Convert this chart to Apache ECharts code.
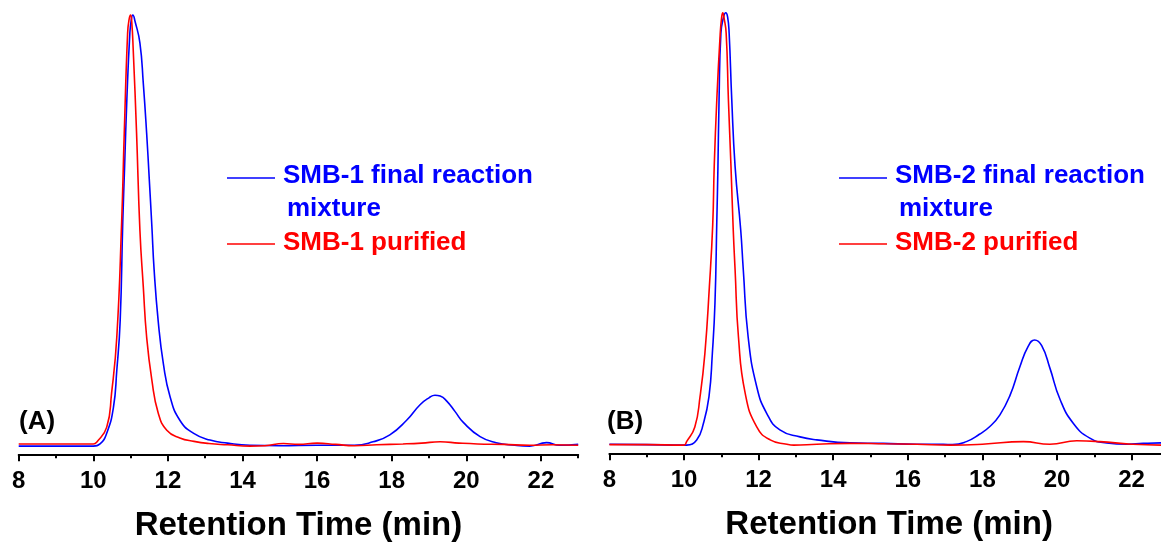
<!DOCTYPE html>
<html>
<head>
<meta charset="utf-8">
<script src="https://cdn.jsdelivr.net/npm/echarts@6/dist/echarts.min.js"></script>
<style>
  html, body { margin: 0; padding: 0; background: #ffffff; }
  #chart { width: 1161px; height: 545px; }
</style>
</head>
<body>
<div id="chart"></div>
<script>
// Axis ticks (minutes)
const majorTicks = [8, 10, 12, 14, 16, 18, 20, 22];
const minorTicks = [9, 11, 13, 15, 17, 19, 21, 23];
const axisTitle = 'Retention Time (min)';

// (A) SMB-1 final reaction mixture — time (min) / normalised detector response
const timeA1 = [8, 9, 10, 10.18, 10.36, 10.54, 10.63, 10.72, 10.79, 10.84, 10.9, 10.98, 11.02, 11.06, 11.12, 11.25, 11.34, 11.43, 11.5, 11.57, 11.63, 11.74, 11.88, 12.06, 12.32, 12.68, 13.13, 13.6, 14.2, 15, 16, 17, 17.5, 17.95, 18.4, 18.76, 19.0, 19.16, 19.3, 19.47, 19.7, 19.92, 20.37, 20.8, 21.3, 21.7, 22.15, 22.5, 23];
const signalA1 = [0, 0, 0, 0.005, 0.03, 0.09, 0.176, 0.29, 0.52, 0.65, 0.805, 0.958, 0.99, 1.0, 0.985, 0.935, 0.842, 0.726, 0.62, 0.51, 0.41, 0.29, 0.19, 0.114, 0.06, 0.03, 0.014, 0.007, 0.002, 0.001, 0.002, 0.002, 0.01, 0.026, 0.06, 0.096, 0.112, 0.118, 0.116, 0.105, 0.08, 0.055, 0.022, 0.008, 0.002, 0.0, 0.008, 0.002, 0.004];

// (A) SMB-1 purified
const timeA2 = [8, 9, 10, 10.09, 10.36, 10.49, 10.63, 10.76, 10.83, 10.92, 10.96, 11.0, 11.03, 11.07, 11.16, 11.25, 11.34, 11.43, 11.57, 11.74, 11.97, 12.32, 12.7, 13.1, 13.6, 14.2, 14.6, 15.1, 15.5, 16.0, 16.5, 17.0, 17.6, 18.3, 18.8, 19.3, 19.8, 20.3, 21.0, 21.7, 22.3, 23];
const signalA2 = [0.005, 0.005, 0.005, 0.009, 0.044, 0.123, 0.253, 0.52, 0.726, 0.958, 0.99, 1.0, 0.985, 0.92, 0.726, 0.5, 0.37, 0.253, 0.153, 0.077, 0.037, 0.019, 0.011, 0.006, 0.003, 0.0, 0.001, 0.006, 0.004, 0.007, 0.004, 0.001, 0.003, 0.005, 0.007, 0.01, 0.007, 0.005, 0.004, 0.002, 0.003, 0.002];

// (B) SMB-2 final reaction mixture
const timeB1 = [8, 9, 10, 10.07, 10.34, 10.52, 10.67, 10.76, 10.83, 10.88, 10.91, 10.94, 10.99, 11.06, 11.12, 11.17, 11.21, 11.28, 11.37, 11.52, 11.59, 11.72, 11.95, 12.22, 12.57, 13.11, 13.56, 14.45, 15.34, 16.24, 16.95, 17.2, 17.57, 17.92, 18.2, 18.47, 18.74, 19.0, 19.23, 19.4, 19.59, 19.81, 20.08, 20.44, 20.88, 21.33, 21.87, 22.31, 22.79, 23];
const signalB1 = [0.002, 0.001, 0, 0, 0.012, 0.05, 0.112, 0.212, 0.328, 0.52, 0.644, 0.8, 0.953, 0.99, 1.0, 0.99, 0.953, 0.8, 0.644, 0.498, 0.405, 0.25, 0.135, 0.073, 0.035, 0.019, 0.012, 0.005, 0.004, 0.002, 0.002, 0.001, 0.008, 0.025, 0.043, 0.07, 0.115, 0.18, 0.229, 0.243, 0.23, 0.178, 0.106, 0.05, 0.016, 0.005, 0.002, 0.004, 0.005, 0.004];

// (B) SMB-2 purified
const timeB2 = [8, 9, 10, 10.07, 10.29, 10.43, 10.56, 10.68, 10.77, 10.81, 10.88, 10.97, 11.01, 11.04, 11.07, 11.13, 11.19, 11.26, 11.32, 11.37, 11.46, 11.64, 11.95, 12.31, 12.76, 12.94, 13.56, 14.45, 15.4, 16.24, 17.14, 18.0, 19.1, 19.81, 20.53, 21.15, 22.0, 22.8, 23];
const signalB2 = [0.001, 0.001, 0, 0.008, 0.042, 0.112, 0.212, 0.366, 0.51, 0.644, 0.8, 0.95, 0.99, 1.0, 0.99, 0.953, 0.8, 0.644, 0.498, 0.405, 0.25, 0.12, 0.042, 0.012, 0.002, 0, 0.002, 0.004, 0.003, 0.002, 0, 0.002, 0.008, 0.002, 0.01, 0.008, 0.002, 0, 0];

const BLUE = '#0000ff';
const RED = '#ff0000';
const FONT = '"Liberation Sans", Arial, sans-serif';

const pairs = (t, v) => t.map((x, i) => [x, v[i]]);

// Plot geometry: two panels, each with a second overlaid grid that carries the minor ticks
const panels = [
  { left: 18.7, top: 6.4, width: 559.5, height: 447.9 },
  { left: 609.4, top: 4.1, width: 559.5, height: 449.2 }
];

const grids = [];
panels.forEach(p => {
  grids.push({ ...p, containLabel: false, outerBoundsMode: 'none' });
  grids.push({ ...p, containLabel: false, outerBoundsMode: 'none' });
});

const xAxes = [];
const yAxes = [];
panels.forEach((p, k) => {
  // main axis: line, long ticks, labels, title
  xAxes.push({
    type: 'value', gridIndex: 2 * k, min: 8, max: 23,
    axisLine: { show: true, onZero: false, lineStyle: { color: '#000', width: 2 } },
    axisTick: { show: true, customValues: majorTicks, length: 7, inside: false, lineStyle: { color: '#000', width: 2 } },
    axisLabel: { show: true, customValues: majorTicks, margin: 15, color: '#000', fontSize: 24, fontWeight: 'bold', fontFamily: FONT },
    splitLine: { show: false },
    name: axisTitle, nameLocation: 'middle', nameGap: 55,
    nameTextStyle: { color: '#000', fontSize: 33, fontWeight: 'bold', fontFamily: FONT }
  });
  // companion axis: short ticks only
  xAxes.push({
    type: 'value', gridIndex: 2 * k + 1, min: 8, max: 23,
    axisLine: { show: false, onZero: false },
    axisTick: { show: true, customValues: minorTicks, length: 4, lineStyle: { color: '#000', width: 2 } },
    axisLabel: { show: false },
    splitLine: { show: false }
  });
  const ymin = -0.019, ymax = 1.02;
  yAxes.push({ type: 'value', gridIndex: 2 * k, min: ymin, max: ymax, show: false });
  yAxes.push({ type: 'value', gridIndex: 2 * k + 1, min: ymin, max: ymax, show: false });
});

const lineSeries = (name, xi, t, v, color) => ({
  name, type: 'line', xAxisIndex: xi, yAxisIndex: xi,
  data: pairs(t, v), smooth: 0.5,
  showSymbol: false, symbol: 'none', animation: false,
  lineStyle: { color, width: 1.6 }, itemStyle: { color }
});

const series = [
  lineSeries('SMB-1 final reaction mixture', 0, timeA1, signalA1, BLUE),
  lineSeries('SMB-1 purified', 0, timeA2, signalA2, RED),
  lineSeries('SMB-2 final reaction mixture', 2, timeB1, signalB1, BLUE),
  lineSeries('SMB-2 purified', 2, timeB2, signalB2, RED)
];

const textEl = (x, y, text, color, size) => ({
  type: 'text', x, y, silent: true,
  style: { text, fill: color, font: 'bold ' + size + 'px ' + FONT,
           align: 'left', verticalAlign: 'middle', textAlign: 'left', textVerticalAlign: 'middle' }
});
const lineEl = (x1, x2, y, color) => ({
  type: 'line', silent: true,
  shape: { x1, y1: y, x2, y2: y },
  style: { stroke: color, lineWidth: 1.5 }
});

// Key for each panel
const keyEls = (dx, tag) => [
  lineEl(227 + dx, 275 + dx, 178, BLUE),
  textEl(283 + dx, 176, tag + ' final reaction', BLUE, 26),
  textEl(287 + dx, 209, 'mixture', BLUE, 26),
  lineEl(227 + dx, 275 + dx, 244, RED),
  textEl(283 + dx, 243, tag + ' purified', RED, 26)
];

const graphic = [
  textEl(19, 422, '(A)', '#000', 26),
  textEl(607, 422, '(B)', '#000', 26),
  ...keyEls(0, 'SMB-1'),
  ...keyEls(612, 'SMB-2')
];

const chart = echarts.init(document.getElementById('chart'), null, { renderer: 'canvas' });
chart.setOption({
  backgroundColor: '#ffffff',
  animation: false,
  grid: grids,
  xAxis: xAxes,
  yAxis: yAxes,
  series,
  graphic
});
</script>
</body>
</html>
